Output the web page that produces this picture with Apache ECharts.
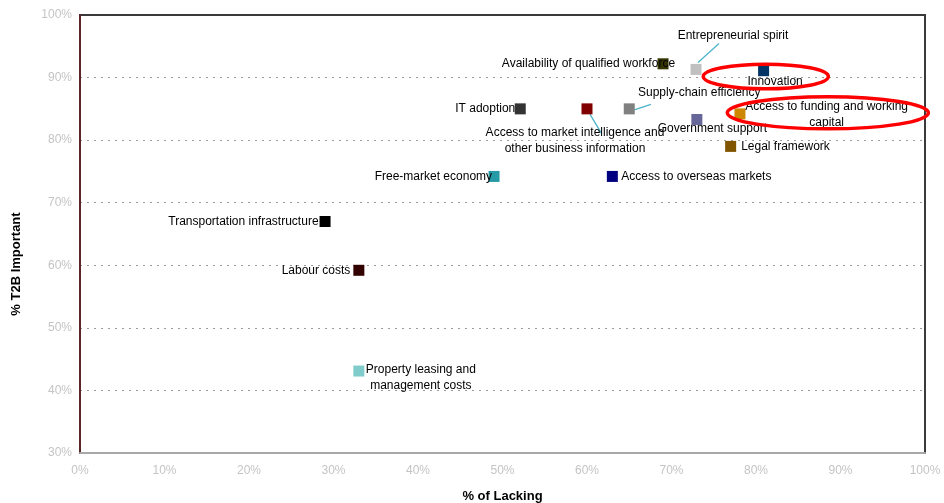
<!DOCTYPE html>
<html>
<head>
<meta charset="utf-8">
<title>Importance vs. lacking</title>
<script src="https://cdn.jsdelivr.net/npm/echarts@6/dist/echarts.min.js"></script>
<style>
  html, body { margin: 0; padding: 0; background: #fff; }
  #chart { width: 944px; height: 503px; }
</style>
</head>
<body>
<div id="chart"></div>
<script>
// ---- data ----
const factors = [
  'Transportation infrastructure',
  'Labour costs',
  'Property leasing and\nmanagement costs',
  'Free-market economy',
  'IT adoption',
  'Access to market intelligence and\nother business information',
  'Supply-chain efficiency',
  'Access to overseas markets',
  'Availability of qualified workforce',
  'Entrepreneurial spirit',
  'Innovation',
  'Government support',
  'Access to funding and working\ncapital',
  'Legal framework'
];
const lackingPct   = [29.0, 33.0, 33.0, 49.0, 52.1, 60.0, 65.0, 63.0, 69.0, 72.9, 80.9, 73.0, 78.1, 77.0];
const importantPct = [67.0, 59.2, 43.1, 74.2, 85.0, 85.0, 85.0, 74.2, 92.2, 91.3, 91.1, 83.3, 84.2, 79.0];

// highlighted factors: centre (lacking, important) and radii in the same units
const highlightRings = [
  [81.16, 90.17, 7.4, 1.97],
  [88.5, 84.37, 11.9, 2.56]
];

const xTicks = { min: 0, max: 100, step: 10 };
const yTicks = { min: 30, max: 100, step: 10 };

// ---- styling ----
const markerColors = [
  '#000000', '#330000', '#80cccc', '#269aa6', '#333333', '#800000', '#808080',
  '#000080', '#333300', '#c0c0c0', '#003366', '#666699', '#cc8800', '#805400'
];

// label placement per factor: [position, offsetX, offsetY]
const labelPlacement = [
  ['left', 4, 0],
  ['left', 2, 0],
  ['inside', 62, 6.5],
  ['left', 8.5, 0],
  ['left', 5.5, 0],
  ['inside', -12, 32],
  ['inside', 70, -16],
  ['right', -1.5, 0],
  ['left', 22.5, 0],
  ['inside', 37, -34],
  ['inside', 11.5, 11],
  ['inside', 15.5, 9],
  ['inside', 86.7, 1],
  ['right', 0, 0]
];

// leader lines from a marker to its label, pixel offsets from the marker centre
const leaderLines = [
  { i: 9, from: [2, -7], to: [23, -26] },
  { i: 6, from: [5, 1], to: [21.7, -4.5] },
  { i: 5, from: [3, 5.5], to: [14.5, 24.5] }
];

const FONT = "'Liberation Sans', Arial, sans-serif";

const points = factors.map((name, k) => {
  const [pos, dx, dy] = labelPlacement[k];
  return {
    name: name,
    value: [lackingPct[k], importantPct[k]],
    itemStyle: { color: markerColors[k], opacity: 1 },
    label: {
      show: true,
      position: pos,
      offset: [dx, dy],
      align: pos === 'inside' ? 'center' : undefined,
      verticalAlign: 'middle'
    }
  };
});

const chart = echarts.init(document.getElementById('chart'), null, { renderer: 'canvas' });

chart.setOption({
  animation: false,
  backgroundColor: '#ffffff',
  grid: {
    left: 80, right: 19, top: 15, bottom: 50,
    outerBoundsMode: 'none',
    containLabel: false,
    show: true,
    borderColor: '#3a3a3a',
    borderWidth: 2,
    backgroundColor: 'transparent'
  },
  xAxis: {
    type: 'value',
    min: xTicks.min, max: xTicks.max, interval: xTicks.step,
    name: '% of Lacking',
    nameLocation: 'middle',
    nameGap: 37,
    nameTextStyle: { fontFamily: FONT, fontSize: 13, fontWeight: 'bold', color: '#000' },
    axisLine: { show: true, lineStyle: { color: '#a8a8a8', width: 2 } },
    axisTick: { show: false },
    splitLine: { show: false },
    axisLabel: {
      formatter: '{value}%',
      color: '#c4c4c4', fontFamily: FONT, fontSize: 12, margin: 12
    }
  },
  yAxis: {
    type: 'value',
    min: yTicks.min, max: yTicks.max, interval: yTicks.step,
    name: '% T2B Important',
    nameLocation: 'middle',
    nameGap: 57,
    nameTextStyle: {
      fontFamily: FONT, fontSize: 13, fontWeight: 'bold', color: '#000',
      padding: [0, 60, 0, 0]
    },
    axisLine: { show: true, lineStyle: { color: '#5b2525', width: 2 } },
    axisTick: { show: false },
    splitLine: {
      show: true, showMinLine: false, showMaxLine: false,
      lineStyle: { color: '#9a9a9a', type: [2, 5], width: 1 }
    },
    axisLabel: {
      formatter: '{value}%',
      color: '#c4c4c4', fontFamily: FONT, fontSize: 12, margin: 8
    }
  },
  series: [
    {
      type: 'custom',
      name: 'leaders',
      clip: false,
      z: 1,
      data: leaderLines.map(l => [lackingPct[l.i], importantPct[l.i]]),
      renderItem: function (params, api) {
        const c = api.coord([api.value(0), api.value(1)]);
        const g = leaderLines[params.dataIndex];
        return {
          type: 'line',
          shape: {
            x1: c[0] + g.from[0], y1: c[1] + g.from[1],
            x2: c[0] + g.to[0], y2: c[1] + g.to[1]
          },
          style: { stroke: '#4cb4ca', lineWidth: 1.3 }
        };
      }
    },
    {
      type: 'scatter',
      name: 'factors',
      z: 2,
      symbol: 'rect',
      symbolSize: 11,
      itemStyle: { opacity: 1 },
      data: points,
      label: {
        show: true,
        formatter: '{b}',
        fontFamily: FONT,
        fontSize: 12,
        lineHeight: 16,
        color: '#000'
      },
      emphasis: { disabled: true }
    },
    {
      type: 'custom',
      name: 'highlights',
      clip: false,
      z: 3,
      data: highlightRings,
      renderItem: function (params, api) {
        const c = api.coord([api.value(0), api.value(1)]);
        const s = api.size([api.value(2), api.value(3)]);
        return {
          type: 'ellipse',
          shape: { cx: c[0], cy: c[1], rx: s[0], ry: s[1] },
          style: { fill: 'none', stroke: '#ff0000', lineWidth: 3.5 }
        };
      }
    }
  ]
});
</script>
</body>
</html>
